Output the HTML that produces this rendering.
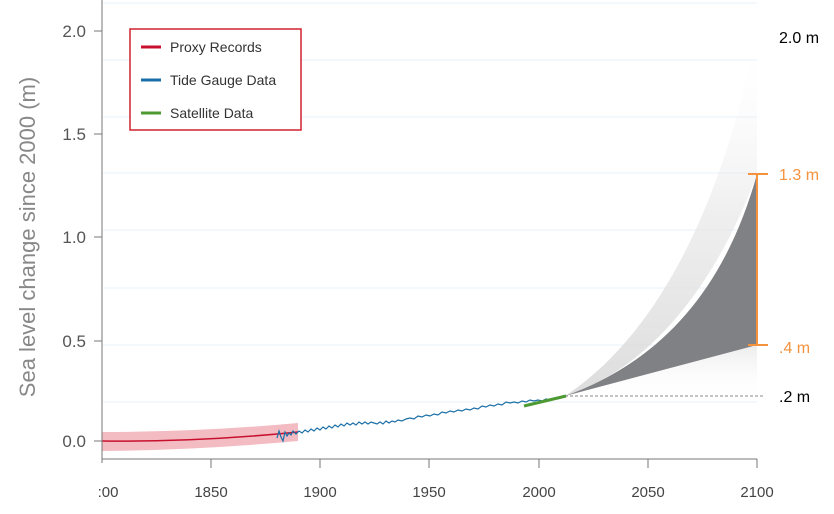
<!DOCTYPE html>
<html><head><style>
body{margin:0;background:#fff;}
svg text{font-family:"Liberation Sans",sans-serif;}
</style></head><body>
<svg width="834" height="509" viewBox="0 0 834 509" xmlns="http://www.w3.org/2000/svg">
<defs>
<linearGradient id="fade" x1="0" y1="0" x2="0" y2="1">
<stop offset="0" stop-color="#fff" stop-opacity="0"/>
<stop offset="0.5" stop-color="#e4e4e4" stop-opacity="0.6"/>
<stop offset="1" stop-color="#d4d4d4" stop-opacity="0.8"/>
</linearGradient>
<linearGradient id="fadeL" x1="0" y1="0" x2="0" y2="1">
<stop offset="0" stop-color="#e0e0e0" stop-opacity="0.6"/>
<stop offset="1" stop-color="#fff" stop-opacity="0"/>
</linearGradient>
</defs>
<g stroke="#e6f0f8" stroke-width="1">
<line x1="103" y1="3" x2="757" y2="3"/><line x1="103" y1="60" x2="757" y2="60"/>
<line x1="103" y1="117" x2="757" y2="117"/><line x1="103" y1="173" x2="757" y2="173"/>
<line x1="103" y1="230" x2="757" y2="230"/><line x1="103" y1="288" x2="757" y2="288"/>
<line x1="103" y1="345" x2="757" y2="345"/><line x1="103" y1="402" x2="757" y2="402"/>
</g>
<path d="M565,396 C650,340 720,220 757,30 L757,174 C710,300 640,372 565,396 Z" fill="url(#fade)"/>
<path d="M565,396 L757,345 L757,400 Z" fill="url(#fadeL)"/>
<path d="M565,396 C660,362 725,290 757,174 L757,345 Z" fill="#808184"/>
<line x1="565" y1="396" x2="765" y2="396" stroke="#888" stroke-dasharray="3,2" stroke-width="1"/>
<g stroke="#f5923e" stroke-width="2">
<line x1="757" y1="174" x2="757" y2="345"/>
<line x1="748" y1="174" x2="768" y2="174"/><line x1="748" y1="345" x2="768" y2="345"/>
</g>
<path d="M102,432 Q200,432 298,423 L298,441 Q200,450 102,451 Z" fill="#f2bcc2"/>
<path d="M102,441 Q200,442 298,432" fill="none" stroke="#c8102e" stroke-width="1.5"/>
<polyline fill="none" stroke="#1a6fa8" stroke-width="1.2" points="277,438 279,431 281,437 283,441 285,432 287,436 289,433 291,435 293,431 296,434 299,431 302,433 305,430 308,432 311,429 314,431 317,428 320,430 323,427 326,429 329,426 332,428 335,425 338,427 341,424 344,426 347,423 350,425 353,423 356,425 359,422 362,424 365,422 368,424 371,422 374,423 377,424 380,422 383,424 386,421 389,423 392,421 395,422 398,420 402,421 406,419 410,418 414,419 418,416 422,417 426,415 430,416 434,414 438,415 442,412 446,413 450,411 454,412 458,410 462,411 466,409 470,410 474,408 478,409 482,406 486,407 490,405 494,406 498,404 502,405 506,402 510,403 514,402 518,403 522,401 526,402 530,400 534,401 538,400 542,401 546,399 550,400 554,398 558,399 562,397 566,396"/>
<line x1="524" y1="406" x2="566" y2="396" stroke="#4e9a32" stroke-width="3"/>
<line x1="102" y1="0" x2="102" y2="463" stroke="#777" stroke-width="1"/>
<line x1="102" y1="459" x2="757" y2="459" stroke="#777" stroke-width="1"/>
<g stroke="#777"><line x1="94" y1="441" x2="102" y2="441"/><line x1="94" y1="341" x2="102" y2="341"/>
<line x1="94" y1="237" x2="102" y2="237"/><line x1="94" y1="134" x2="102" y2="134"/><line x1="94" y1="31" x2="102" y2="31"/>
<line x1="211" y1="459" x2="211" y2="468"/><line x1="320" y1="459" x2="320" y2="468"/><line x1="429" y1="459" x2="429" y2="468"/>
<line x1="539" y1="459" x2="539" y2="468"/><line x1="648" y1="459" x2="648" y2="468"/><line x1="757" y1="459" x2="757" y2="468"/></g>
<g font-size="17" fill="#555" text-anchor="end">
<text x="86" y="447">0.0</text><text x="86" y="347">0.5</text><text x="86" y="243">1.0</text><text x="86" y="140">1.5</text><text x="86" y="37">2.0</text>
</g>
<g font-size="15" fill="#444" text-anchor="middle">
<text x="108" y="497">:00</text><text x="211" y="497">1850</text><text x="320" y="497">1900</text><text x="429" y="497">1950</text>
<text x="539" y="497">2000</text><text x="648" y="497">2050</text><text x="757" y="497">2100</text>
</g>
<text transform="translate(35,237) rotate(-90)" font-size="22" fill="#888" text-anchor="middle">Sea level change since 2000 (m)</text>
<g font-size="16">
<text x="779" y="43" fill="#000">2.0 m</text>
<text x="779" y="180" fill="#f5923e">1.3 m</text>
<text x="779" y="353" fill="#f5923e">.4 m</text>
<text x="779" y="402" fill="#000">.2 m</text>
</g>
<rect x="130" y="29" width="171" height="101" fill="#fff" stroke="#d0212e" stroke-width="1.5"/>
<g stroke-width="3"><line x1="141" y1="47" x2="161" y2="47" stroke="#c8102e"/>
<line x1="141" y1="80" x2="161" y2="80" stroke="#1a6fa8"/><line x1="141" y1="113" x2="161" y2="113" stroke="#4e9a32"/></g>
<g font-size="14" fill="#333"><text x="170" y="52">Proxy Records</text><text x="170" y="85">Tide Gauge Data</text><text x="170" y="118">Satellite Data</text></g>
</svg>
</body></html>
